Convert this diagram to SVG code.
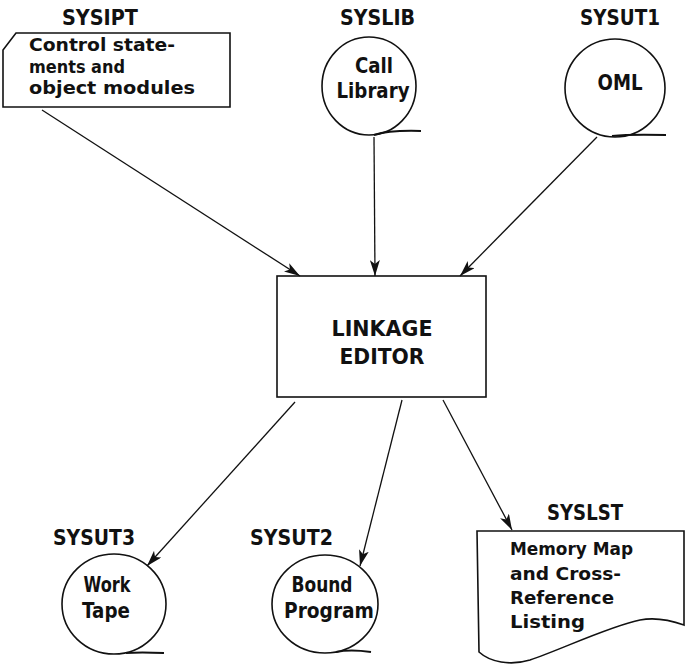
<svg xmlns="http://www.w3.org/2000/svg" width="685" height="665" viewBox="0 0 685 665">
<style>
  text { font-family: "DejaVu Sans", "Liberation Sans", sans-serif; font-weight: bold; fill: #111; }
  .lbl { font-size: 21px; }
  .t { font-size: 18px; }
  .big { font-size: 21px; }
  .shape { fill: #fff; stroke: #111; stroke-width: 1.6; }
  .tail { fill: none; stroke: #111; stroke-width: 2; }
  .conn { fill: none; stroke: #111; stroke-width: 1.3; marker-end: url(#ah); }
</style>
<defs>
  <marker id="ah" markerWidth="16" markerHeight="10" refX="16" refY="5" orient="auto" markerUnits="userSpaceOnUse">
    <path d="M0,0 L16,5 L0,10 L4,5 Z" fill="#111"/>
  </marker>
</defs>
<rect width="685" height="665" fill="#fff"/>

<g id="sysipt">
  <text class="lbl" x="62" y="25" textLength="76" lengthAdjust="spacingAndGlyphs">SYSIPT</text>
  <path class="shape" d="M16,33 L230,33 L230,107 L3,107 L3,50 Z"/>
  <text class="t" x="29" y="51" textLength="146" lengthAdjust="spacingAndGlyphs">Control state-</text>
  <text class="t" x="29" y="73" textLength="96" lengthAdjust="spacingAndGlyphs">ments and</text>
  <text class="t" x="29" y="94" textLength="166" lengthAdjust="spacingAndGlyphs">object modules</text>
</g>

<g id="syslib">
  <text class="lbl" x="340" y="25" textLength="75" lengthAdjust="spacingAndGlyphs">SYSLIB</text>
  <ellipse class="shape" cx="369" cy="86" rx="47" ry="49"/>
  <path class="tail" d="M374,135 Q390,130 421,131"/>
  <text class="big" x="374" y="73" text-anchor="middle" textLength="38" lengthAdjust="spacingAndGlyphs">Call</text>
  <text class="big" x="373" y="98" text-anchor="middle" textLength="73" lengthAdjust="spacingAndGlyphs">Library</text>
</g>

<g id="sysut1">
  <text class="lbl" x="580" y="25" textLength="80" lengthAdjust="spacingAndGlyphs">SYSUT1</text>
  <ellipse class="shape" cx="615" cy="88" rx="50" ry="49"/>
  <path class="tail" d="M612,136 Q630,134 666,135"/>
  <text class="big" x="620" y="90" text-anchor="middle" textLength="45" lengthAdjust="spacingAndGlyphs">OML</text>
</g>

<g id="linkage">
  <rect class="shape" x="277" y="276" width="209" height="121" stroke-width="2"/>
  <text class="big" x="382" y="336" text-anchor="middle" textLength="101" lengthAdjust="spacingAndGlyphs">LINKAGE</text>
  <text class="big" x="382" y="364" text-anchor="middle" textLength="85" lengthAdjust="spacingAndGlyphs">EDITOR</text>
</g>

<g id="sysut3">
  <text class="lbl" x="53" y="545" textLength="82" lengthAdjust="spacingAndGlyphs">SYSUT3</text>
  <ellipse class="shape" cx="114" cy="604" rx="52" ry="50"/>
  <path class="tail" d="M126,653 Q140,652 164,653"/>
  <text class="big" x="107" y="592" text-anchor="middle" textLength="47" lengthAdjust="spacingAndGlyphs">Work</text>
  <text class="big" x="106" y="618" text-anchor="middle" textLength="48" lengthAdjust="spacingAndGlyphs">Tape</text>
</g>

<g id="sysut2">
  <text class="lbl" x="250" y="545" textLength="83" lengthAdjust="spacingAndGlyphs">SYSUT2</text>
  <ellipse class="shape" cx="325" cy="604" rx="53" ry="49"/>
  <path class="tail" d="M336,652 Q350,649 371,652"/>
  <text class="big" x="322" y="592" text-anchor="middle" textLength="61" lengthAdjust="spacingAndGlyphs">Bound</text>
  <text class="big" x="329" y="618" text-anchor="middle" textLength="90" lengthAdjust="spacingAndGlyphs">Program</text>
</g>

<g id="syslst">
  <text class="lbl" x="547" y="520" textLength="76" lengthAdjust="spacingAndGlyphs">SYSLST</text>
  <path class="shape" d="M477,531 L684,531 L684,625 C670,620 655,617 640,620 C610,626 560,650 530,660 C510,666 490,662 479,652 Z"/>
  <text class="t" x="510" y="555" textLength="123" lengthAdjust="spacingAndGlyphs">Memory Map</text>
  <text class="t" x="510" y="580" textLength="111" lengthAdjust="spacingAndGlyphs">and Cross-</text>
  <text class="t" x="510" y="604" textLength="104" lengthAdjust="spacingAndGlyphs">Reference</text>
  <text class="t" x="510" y="628" textLength="75" lengthAdjust="spacingAndGlyphs">Listing</text>
</g>

<g id="connectors">
  <path class="conn" d="M42,110 L300,276"/>
  <path class="conn" d="M374,137 L375,276"/>
  <path class="conn" d="M597,137 L460,276"/>
  <path class="conn" d="M295,402 L147,566"/>
  <path class="conn" d="M402,400 L360,566"/>
  <path class="conn" d="M443,400 L512,530"/>
</g>
</svg>
